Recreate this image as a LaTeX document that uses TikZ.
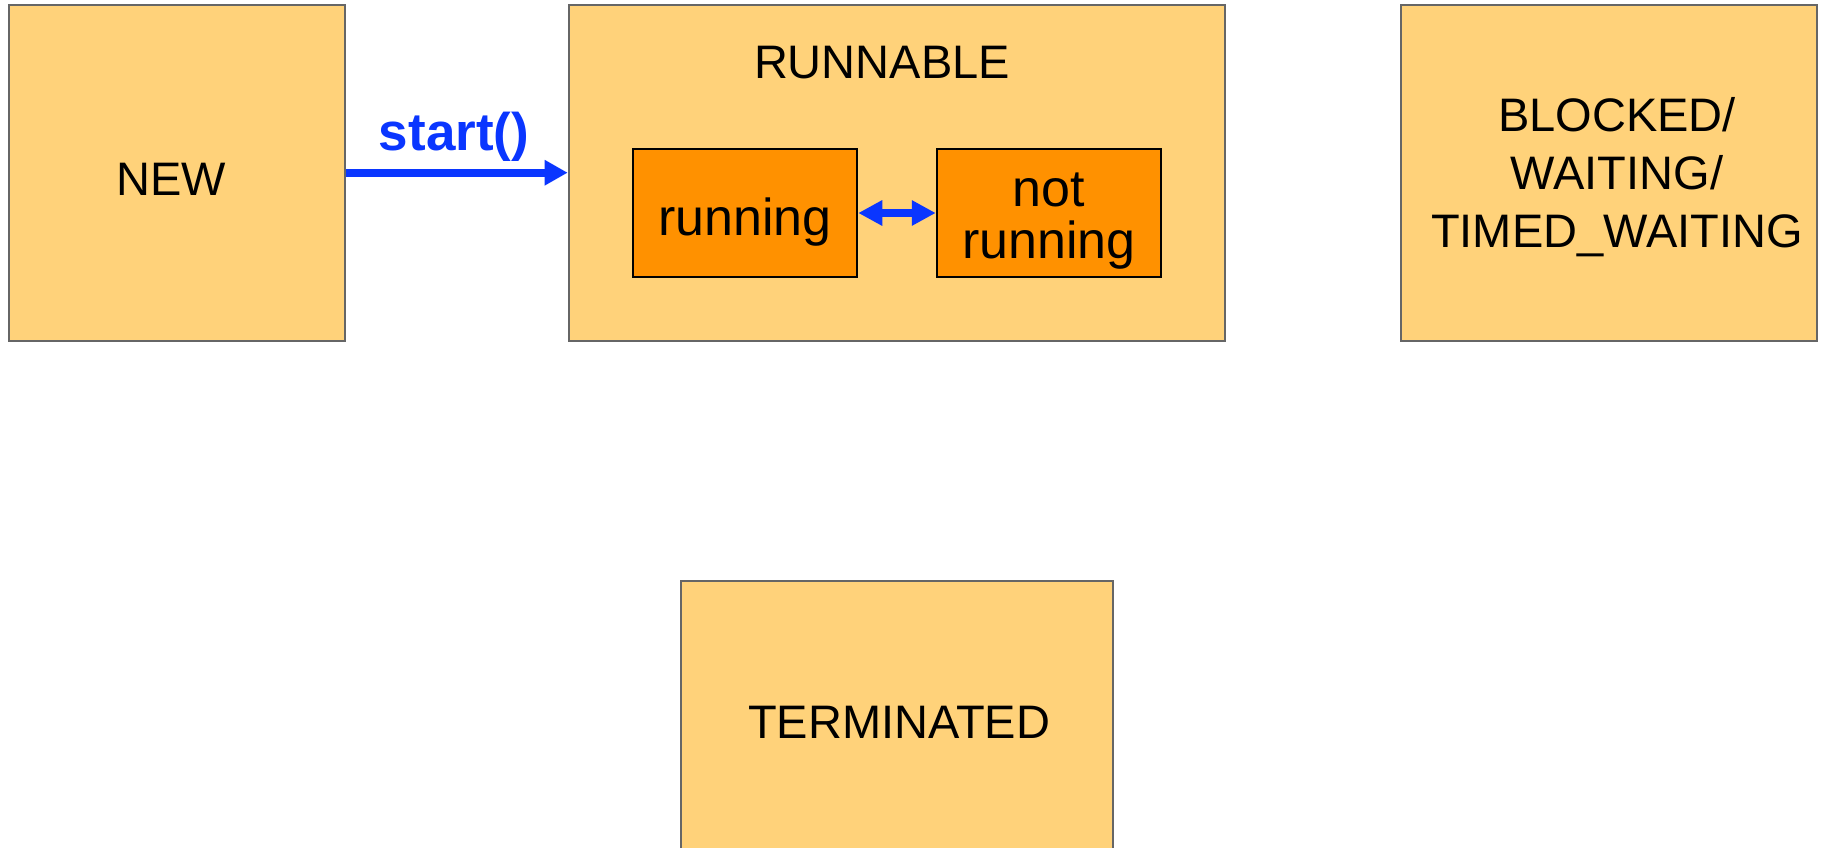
\documentclass[tikz,border=0pt]{standalone}
\usepackage{fontspec}
\setmainfont{Liberation Sans}
\usetikzlibrary{arrows.meta}
\definecolor{stateFill}{HTML}{FFD27A}
\definecolor{subFill}{HTML}{FF9100}
\definecolor{edgeGray}{HTML}{666666}
\definecolor{flowBlue}{HTML}{0A36FF}

\tikzset{
  statebox/.style={draw=edgeGray, fill=stateFill, line width=2pt, rectangle, inner sep=0pt},
  subbox/.style={draw=black, fill=subFill, line width=2.5pt, rectangle, inner sep=0pt,
    minimum width=224pt, minimum height=128pt},
  txt/.style={inner sep=0pt, anchor=base, text=black, font=\fontsize{47}{56}\selectfont},
  subtxt/.style={inner sep=0pt, anchor=base, text=black, align=center,
    font=\fontsize{52}{51.6}\selectfont},
  flow/.style={draw=flowBlue, line width=8pt},
}

\begin{document}
\begin{tikzpicture}[x=1pt, y=-1pt]
  \useasboundingbox (0,0) rectangle (1821,848);
  \clip (0,0) rectangle (1821,848);
  \fill[white] (0,0) rectangle (1821,848);

  % state boxes
  \node[statebox, minimum width=336.5pt, minimum height=336pt] (new) at (176.75,172.7) {};
  \node[statebox, minimum width=656.3pt, minimum height=336pt] (runnable) at (896.85,172.7) {};
  \node[statebox, minimum width=416.3pt, minimum height=336pt] (blocked) at (1608.85,172.7) {};
  \node[statebox, minimum width=432.3pt, minimum height=319pt] (terminated) at (896.85,740.5) {};

  % sub-states of RUNNABLE
  \node[subbox] (running) at (745,213) {};
  \node[subbox] (notrunning) at (1049,213) {};

  % labels (multi-line labels are placed by the baseline of their last line)
  \node[txt] (newtxt) at (171,195) {NEW};
  \node[txt] (runnabletxt) at (882,79) {RUNNABLE};
  \node[txt, align=center, font=\fontsize{47}{57.8}\selectfont] (blockedtxt) at (1617,247.3)
    {BLOCKED/\\WAITING/\\TIMED\_WAITING};
  \node[txt] (terminatedtxt) at (899,738) {TERMINATED};
  \node[subtxt] (runningtxt) at (745,235) {running};
  \node[subtxt] (notrunningtxt) at (1049,258.3) {not\\running};

  % transitions
  \draw[flow, -{Triangle[length=23pt, width=24pt]}] (new.east) -- (runnable.west);
  \node[inner sep=0pt, anchor=base, text=flowBlue, font=\fontsize{53}{60}\selectfont\bfseries]
    (startlbl) at (454,150) {start()};
  \draw[flow, {Triangle[length=24pt, width=24pt]}-{Triangle[length=24pt, width=24pt]}]
    (running.east) -- (notrunning.west);
\end{tikzpicture}
\end{document}
